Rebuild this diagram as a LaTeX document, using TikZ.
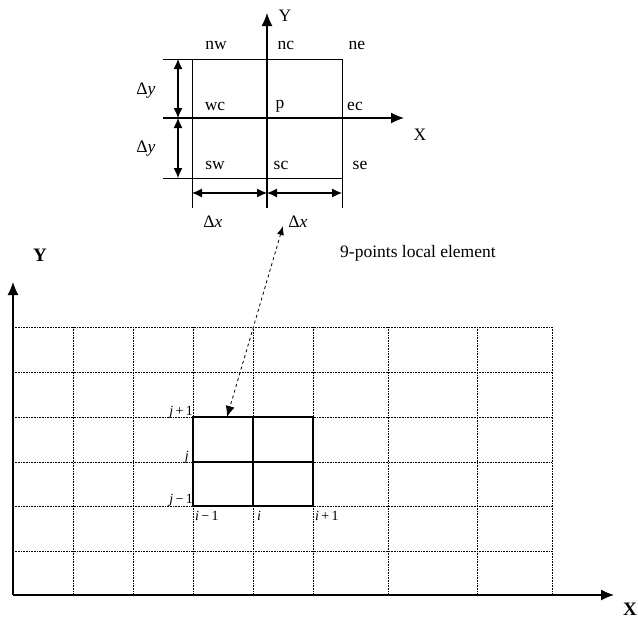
\documentclass[tikz,border=0pt]{standalone}
\usepackage{fontspec}
\setmainfont{Liberation Serif}
\usetikzlibrary{arrows.meta}
\begin{document}
\begin{tikzpicture}[x=1pt,y=-1pt,
  lbl/.style={font=\fontsize{17.5}{20}\selectfont, inner sep=0pt},
  ijlbl/.style={font=\fontsize{14}{16}\selectfont, inner sep=0pt},
  axis/.style={line width=1.2pt, -{Latex[length=13pt,width=11pt]}},
  dim/.style={line width=1.1pt, {Latex[length=10pt,width=9pt]}-{Latex[length=10pt,width=9pt]}},
  boxline/.style={line width=0.9pt},
  gridline/.style={densely dotted, line width=0.6pt},
  thick square/.style={line width=1.3pt}]
\useasboundingbox (0,0) rectangle (638,622);
% ---------- top local element ----------
\coordinate (ybot) at (267,208); \coordinate (ytop) at (267,13);
\coordinate (xl) at (163,118); \coordinate (xr) at (404,118);
\coordinate (tl) at (163,59); \coordinate (tr) at (342,59);
\coordinate (bl) at (163,178); \coordinate (br) at (342,178);
\coordinate (lt) at (192,59); \coordinate (lb) at (192,208);
\coordinate (rt) at (342,59); \coordinate (rb) at (342,208);
\draw[axis] (ybot) -- (ytop);
\draw[axis] (xl) -- (xr);
\draw[boxline] (tl) -- (tr);
\draw[boxline] (bl) -- (br);
\draw[boxline] (lt) -- (lb);
\draw[boxline] (rt) -- (rb);
\coordinate (dy1) at (178,59); \coordinate (dy2) at (178,118); \coordinate (dy3) at (178,178);
\draw[dim] (dy1) -- (dy2);
\draw[dim] (dy2) -- (dy3);
\coordinate (dx1) at (192,193); \coordinate (dx2) at (267,193); \coordinate (dx3) at (342,193);
\draw[dim] (dx1) -- (dx2);
\draw[dim] (dx2) -- (dx3);
\node[lbl] (Ylab) at (285,16) {Y};
\node[lbl] (Xlab) at (420,135) {X};
\node[lbl] (nw) at (216,45) {nw};
\node[lbl] (nc) at (286,45) {nc};
\node[lbl] (ne) at (357,45) {ne};
\node[lbl] (wc) at (215,106) {wc};
\node[lbl] (p) at (280,106) {p};
\node[lbl] (ec) at (355,106) {ec};
\node[lbl] (sw) at (215,165) {sw};
\node[lbl] (sc) at (281,165) {sc};
\node[lbl] (se) at (360,165) {se};
\node[lbl] (dyA) at (146,91) {Δ\textit{y}};
\node[lbl] (dyB) at (146,149) {Δ\textit{y}};
\node[lbl] (dxA) at (213,222) {Δ\textit{x}};
\node[lbl] (dxB) at (298,222) {Δ\textit{x}};
\node[lbl, anchor=west] (caption) at (340,253) {9-points local element};
% ---------- global grid ----------
\foreach \x in {73,133,193,253,313,388,477,552}
  \draw[gridline] (\x,327) -- (\x,595);
\foreach \y in {327,372,417,462,506,551}
  \draw[gridline] (13,\y) -- (552,\y);
\coordinate (O) at (13,595); \coordinate (Ytip) at (13,282); \coordinate (Xtip) at (614,595);
\draw[axis] (O) -- (Ytip);
\draw[axis] (O) -- (Xtip);
\node[lbl, font=\fontsize{19}{21}\selectfont\bfseries] (GY) at (40,255) {Y};
\node[lbl, font=\fontsize{19}{21}\selectfont\bfseries] (GX) at (630,609) {X};
\coordinate (s1) at (193,417); \coordinate (s2) at (313,506);
\draw[thick square] (s1) rectangle (s2);
\coordinate (mt) at (253,417); \coordinate (mb) at (253,506);
\coordinate (ml) at (193,462); \coordinate (mr) at (313,462);
\draw[thick square] (mt) -- (mb);
\draw[thick square] (ml) -- (mr);
\node[ijlbl, anchor=east] (jp) at (193,412) {\textit{j}\,+\,1};
\node[ijlbl, anchor=east] (j0) at (189,457) {\textit{j}};
\node[ijlbl, anchor=east] (jm) at (193,500) {\textit{j}\,−\,1};
\node[ijlbl, anchor=west] (im) at (195,516) {\textit{i}\,−\,1};
\node[ijlbl, anchor=west] (i0) at (257,516) {\textit{i}};
\node[ijlbl, anchor=west] (ip) at (315,516) {\textit{i}\,+\,1};
% ---------- dashed link ----------
\coordinate (la) at (283,226); \coordinate (lb2) at (227,417);
\draw[dashed, line width=0.8pt, {Latex[length=9pt,width=7pt]}-{Latex[length=11pt,width=9pt]}] (la) -- (lb2);
\end{tikzpicture}
\end{document}
